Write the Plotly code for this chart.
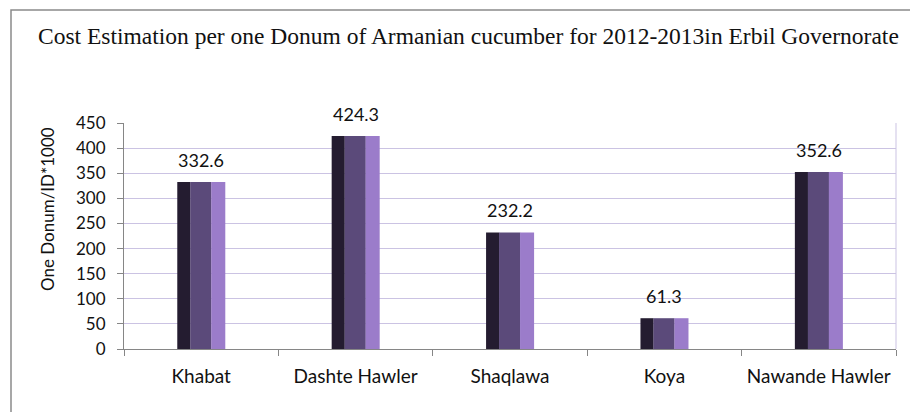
import plotly.graph_objects as go

regions = ["Khabat", "Dashte Hawler", "Shaqlawa", "Koya", "Nawande Hawler"]
cost = [332.6, 424.3, 232.2, 61.3, 352.6]
y_ticks = [0, 50, 100, 150, 200, 250, 300, 350, 400, 450]

_SANS = "Lato, 'Open Sans', sans-serif"
L, R, T, B = 116, 30, 115, 71
PW, PH = 918 - L - R, 412 - T - B

fig = go.Figure()

# bevelled bar look: dark left edge, main face, light right edge
for off, w, col in [(-0.155, 0.085, "#241c30"),
                    (-0.071, 0.137, "#5b4a7a"),
                    (0.065, 0.091, "#9b7cca")]:
    fig.add_trace(go.Bar(
        x=regions, y=cost,
        offset=off, width=w,
        marker=dict(color=col, line=dict(width=0)),
        showlegend=False,
        hoverinfo="x+y",
    ))

# value labels above the bars
for r, v in zip(regions, cost):
    fig.add_annotation(x=r, y=v, text=f"{v:.1f}", showarrow=False,
                       yanchor="bottom", yshift=9,
                       font=dict(family=_SANS, size=18, color="#111111"))

# y axis title (sits a bit above the plot's middle, as in the source)
fig.add_annotation(x=(39 - L) / PW, y=(412 - B - 201) / PH,
                   xref="paper", yref="paper", textangle=-90,
                   xanchor="center", yanchor="middle",
                   text="One Donum/ID*1000", showarrow=False,
                   font=dict(family=_SANS, size=17, color="#111111"))

fig.update_layout(
    barmode="overlay",
    width=918, height=412,
    margin=dict(l=L, r=R, t=T, b=B),
    paper_bgcolor="#ffffff",
    plot_bgcolor="#ffffff",
    title=dict(
        text="Cost Estimation per one Donum of Armanian cucumber for 2012-2013in Erbil Governorate",
        font=dict(family="'Liberation Serif', 'Times New Roman', serif", size=23.5, color="#111111"),
        x=30 / 918, xanchor="left", y=1 - 28 / 412, yanchor="middle",
    ),
    xaxis=dict(
        showgrid=False,
        showline=True, linecolor="#868686", linewidth=1,
        ticks="outside", tickson="boundaries", ticklen=6, tickcolor="#868686",
        ticklabelstandoff=10,
        tickfont=dict(family=_SANS, size=19, color="#111111"),
    ),
    yaxis=dict(
        range=[0, 450],
        tickvals=y_ticks,
        showgrid=True, gridcolor="#cbc3e3", gridwidth=1,
        zeroline=False,
        showline=True, linecolor="#868686", linewidth=1,
        ticks="outside", ticklen=6, tickcolor="#868686",
        ticklabelstandoff=8,
        tickfont=dict(family=_SANS, size=17, color="#111111"),
    ),
    shapes=[
        # outer chart border
        dict(type="rect", xref="paper", yref="paper",
             x0=(3 - L) / PW, x1=1.2, y0=-0.6, y1=1 + (T - 2) / PH,
             line=dict(color="#8a8a8a", width=1.5), fillcolor="rgba(0,0,0,0)", layer="below"),
        # right plot edge line
        dict(type="line", xref="paper", yref="paper", x0=1, x1=1, y0=0, y1=1,
             line=dict(color="#cbc3e3", width=1)),
    ],
)

fig.write_html("out.html")
